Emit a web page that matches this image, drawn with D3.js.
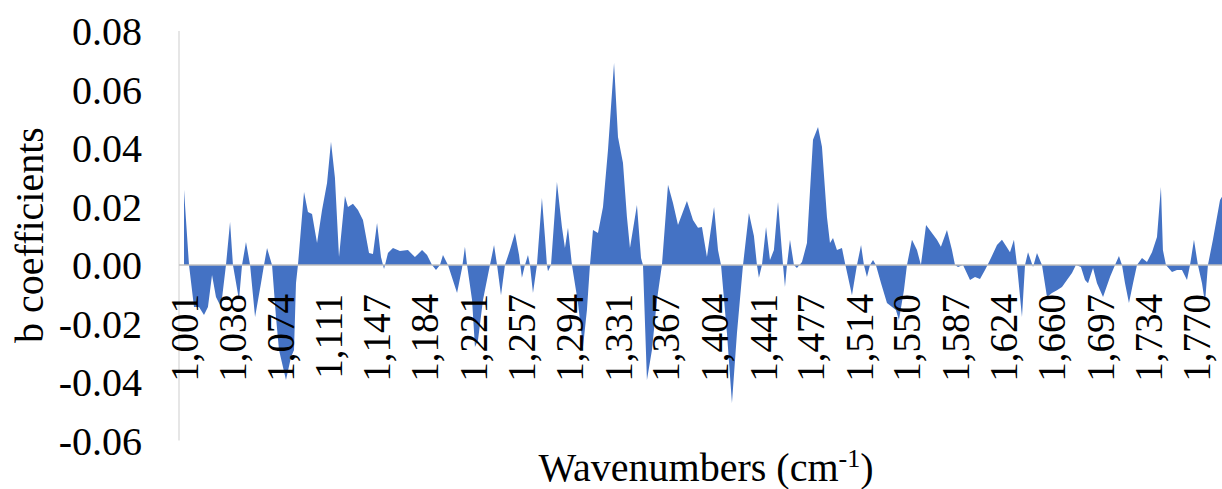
<!DOCTYPE html>
<html>
<head>
<meta charset="utf-8">
<script src="https://cdn.jsdelivr.net/npm/d3@7"></script>
</head>
<body style="margin:0">
<div id="chart"></div>
<script>
var wavenumbers = [
  1001, 1004.8, 1008.6, 1012.4, 1016.2, 1019.2, 1022.3, 1025.3, 1029.1, 1032.9,
  1036.0, 1038.2, 1042.8, 1045.1, 1048.1, 1051.2, 1055.0, 1059.5, 1061.8, 1064.1,
  1067.9, 1070.9, 1073.2, 1075.5, 1078.5, 1082.3, 1084.6, 1086.1, 1087.6, 1092.2,
  1095.2, 1098.3, 1102.1, 1105.9, 1109.7, 1112.7, 1115.7, 1118.8, 1123.3, 1125.6,
  1129.4, 1133.2, 1137.0, 1141.6, 1144.6, 1147.7, 1150.7, 1153.0, 1156.0, 1159.8,
  1165.1, 1171.2, 1176.5, 1181.9, 1185.7, 1189.5, 1192.5, 1195.5, 1197.8, 1201.6,
  1208.5, 1212.3, 1214.5, 1216.1, 1219.9, 1222.1, 1224.4, 1228.2, 1233.5, 1236.6,
  1238.9, 1241.9, 1244.9, 1248.7, 1252.5, 1255.6, 1257.8, 1260.1, 1262.4, 1263.9,
  1266.2, 1269.2, 1273.0, 1275.3, 1276.8, 1277.6, 1279.9, 1284.4, 1288.2, 1290.5,
  1292.8, 1295.8, 1300.4, 1304.2, 1307.2, 1309.5, 1311.8, 1315.6, 1319.4, 1323.2,
  1327.8, 1330.8, 1334.6, 1337.6, 1339.9, 1345.2, 1348.3, 1349.8, 1352.8, 1356.6,
  1360.4, 1364.2, 1368.8, 1372.6, 1376.4, 1383.2, 1387.8, 1391.6, 1394.6, 1398.4,
  1403.8, 1406.8, 1409.1, 1413.6, 1417.4, 1421.2, 1425.8, 1430.3, 1434.1, 1436.4,
  1437.9, 1440.2, 1443.3, 1446.3, 1449.3, 1452.4, 1456.2, 1457.7, 1459.2, 1461.5,
  1464.5, 1466.8, 1470.6, 1474.4, 1479.0, 1482.8, 1485.8, 1489.6, 1491.9, 1494.2,
  1497.2, 1501.0, 1503.3, 1508.6, 1512.4, 1515.5, 1517.7, 1520.0, 1522.3, 1524.6,
  1526.8, 1530.7, 1535.2, 1542.0, 1544.3, 1548.1, 1550.4, 1554.2, 1558.0, 1561.0,
  1564.9, 1569.4, 1573.2, 1576.2, 1580.8, 1584.6, 1586.9, 1589.2, 1593.0, 1598.3,
  1602.1, 1605.9, 1609.7, 1613.5, 1618.8, 1622.6, 1625.7, 1628.7, 1631.7, 1634.0,
  1637.8, 1640.1, 1642.4, 1646.2, 1649.2, 1653.0, 1656.8, 1660.6, 1664.4, 1668.2,
  1672.0, 1675.8, 1678.8, 1682.6, 1685.7, 1688.0, 1691.8, 1694.8, 1699.4, 1704.7,
  1708.5, 1711.5, 1713.8, 1716.1, 1719.1, 1722.2, 1725.2, 1729.0, 1732.8, 1736.6,
  1740.4, 1743.4, 1744.9, 1747.2, 1751.8, 1755.6, 1759.4, 1763.2, 1765.5, 1768.5,
  1771.5, 1774.6, 1776.9, 1779.1, 1782.9, 1788.3, 1789.8
];

var coefficients = [
  0.0257, 0, -0.0144, -0.0144, -0.0171, -0.0144, -0.0034, -0.0109, -0.0144, 0,
  0.0147, 0, -0.0120, 0, 0.0079, 0, -0.0178, -0.0062, 0, 0.0058,
  0, -0.0178, -0.0291, -0.0335, -0.0393, -0.0315, -0.0291, -0.0062, 0, 0.0250,
  0.0181, 0.0174, 0.0075, 0.0188, 0.0280, 0.0421, 0.0298, 0.0027, 0.0236, 0.0198,
  0.0209, 0.0188, 0.0154, 0.0041, 0.0038, 0.0144, 0.0027, -0.0014, 0.0041, 0.0058,
  0.0048, 0.0051, 0.0027, 0.0051, 0.0034, 0, -0.0017, 0, 0.0034, 0,
  -0.0096, -0.0010, 0.0062, 0, -0.0120, -0.0280, -0.0257, -0.0120, 0, 0.0068,
  0, -0.0103, 0, 0.0051, 0.0109, 0.0034, -0.0044, 0, 0.0034, 0,
  -0.0096, 0, 0.0229, 0.0096, 0, -0.0021, 0, 0.0284, 0.0130, 0.0058,
  0.0127, 0, -0.0130, -0.0280, -0.0154, 0, 0.0120, 0.0109, 0.0198, 0.0393,
  0.0691, 0.0438, 0.0349, 0.0164, 0.0058, 0.0205, 0.0024, 0, -0.0393, -0.0291,
  -0.0120, 0, 0.0274, 0.0212, 0.0137, 0.0219, 0.0154, 0.0127, 0.0130, 0.0027,
  0.0198, 0.0051, 0, -0.0233, -0.0472, -0.0233, 0, 0.0178, 0.0099, 0,
  -0.0044, 0, 0.0130, 0.0017, 0.0051, 0.0215, 0, -0.0075, 0, 0.0086,
  0, -0.0010, 0.0010, 0.0075, 0.0428, 0.0472, 0.0404, 0.0164, 0.0075, 0.0092,
  0.0051, 0.0058, 0.0007, -0.0103, 0, 0.0068, 0, -0.0041, 0, 0.0017,
  0, -0.0062, -0.0130, -0.0154, -0.0188, -0.0086, 0, 0.0086, 0.0051, 0,
  0.0137, 0.0109, 0.0086, 0.0062, 0.0120, 0.0051, 0, -0.0007, 0, -0.0051,
  -0.0041, -0.0048, -0.0017, 0.0017, 0.0068, 0.0086, 0.0065, 0.0044, 0.0086, 0,
  -0.0178, 0, 0.0044, -0.0007, 0.0041, 0, -0.0109, -0.0096, -0.0086, -0.0075,
  -0.0051, -0.0027, 0, -0.0007, -0.0051, -0.0062, -0.0010, -0.0062, -0.0109, -0.0041,
  0, 0.0031, 0, -0.0062, -0.0130, -0.0062, 0, 0.0024, 0.0010, 0.0044,
  0.0096, 0.0267, 0.0051, 0, -0.0024, -0.0017, -0.0017, -0.0051, 0, 0.0086,
  0, -0.0062, -0.0130, 0, 0.0086, 0.0222, 0.0233
];

var xTickLabels = [1001, 1038, 1074, 1111, 1147, 1184, 1221, 1257, 1294, 1331, 1367,
  1404, 1441, 1477, 1514, 1550, 1587, 1624, 1660, 1697, 1734, 1770];
var yTickLabels = [-0.06, -0.04, -0.02, 0.00, 0.02, 0.04, 0.06, 0.08];

var width = 1222,
  height = 489,
  fontStack = "'Liberation Serif', 'Times New Roman', serif";

var x = d3.scaleLinear()
  .domain([997.2, 1789.8])
  .range([179, 1222]);

var y = d3.scaleLinear()
  .domain([-0.06, 0.08])
  .range([440.5, 31]);

var data = wavenumbers.map(function(w, i) {
  return { w: w, v: coefficients[i] };
});

var svg = d3.select("#chart").append("svg")
  .attr("width", width)
  .attr("height", height);

var area = d3.area()
  .x(function(d) { return x(d.w); })
  .y0(y(0))
  .y1(function(d) { return y(d.v); });

svg.append("path")
  .datum(data)
  .attr("d", area)
  .attr("fill", "#4472C4")
  .attr("stroke", "none");

// value axis: gray line + labels
svg.append("line")
  .attr("x1", 179).attr("x2", 179)
  .attr("y1", y(0.08)).attr("y2", y(-0.06))
  .attr("stroke", "#D9D9D9")
  .attr("stroke-width", 1.3);

svg.selectAll(".ylab")
  .data(yTickLabels)
  .enter().append("text")
  .attr("class", "ylab")
  .attr("x", 142)
  .attr("y", function(d) { return y(d); })
  .attr("dy", "0.35em")
  .attr("text-anchor", "end")
  .style("font-family", fontStack, "important")
  .style("font-size", "40px", "important")
  .text(function(d) { return d.toFixed(2); });

// category axis crossing at zero
svg.append("line")
  .attr("x1", 179).attr("x2", 1222)
  .attr("y1", y(0)).attr("y2", y(0))
  .attr("stroke", "#BFBFBF")
  .attr("stroke-width", 1.3);

var fmt = d3.format(",");

svg.selectAll(".xlab")
  .data(xTickLabels)
  .enter().append("text")
  .attr("class", "xlab")
  .attr("transform", function(d) {
    return "translate(" + x(d) + "," + (y(0) + 29) + ") rotate(-90)";
  })
  .attr("dy", "0.35em")
  .attr("text-anchor", "end")
  .style("font-family", fontStack, "important")
  .style("font-size", "39px", "important")
  .text(function(d) { return fmt(d); });

// axis titles
svg.append("text")
  .attr("transform", "translate(43,235) rotate(-90)")
  .attr("text-anchor", "middle")
  .style("font-family", fontStack, "important")
  .style("font-size", "40px", "important")
  .text("b coefficients");

var xTitle = svg.append("text")
  .attr("x", 706)
  .attr("y", 481)
  .attr("text-anchor", "middle")
  .style("font-family", fontStack, "important")
  .style("font-size", "40px", "important");

xTitle.append("tspan").text("Wavenumbers (cm");
xTitle.append("tspan")
  .attr("baseline-shift", "super")
  .style("font-size", "26px", "important")
  .text("-1");
xTitle.append("tspan").text(")");
</script>
</body>
</html>
